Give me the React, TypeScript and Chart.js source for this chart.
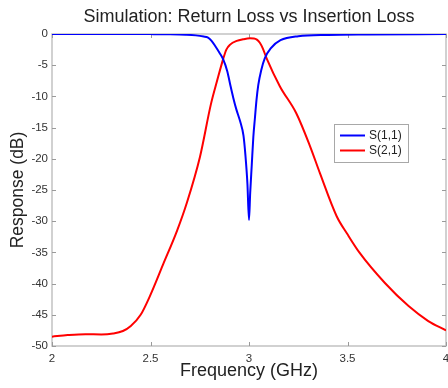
import { useEffect, useRef } from "react";
import { Chart, registerables } from "chart.js";

Chart.register(...registerables);

const FONT = "'Liberation Sans', Arial, Helvetica, sans-serif";

const chartTitle = "Simulation: Return Loss vs Insertion Loss";
const xAxisTitle = "Frequency (GHz)";
const yAxisTitle = "Response (dB)";
const seriesLabels = ["S(1,1)", "S(2,1)"];
const seriesColors = ["#0000ff", "#ff0000"];

const xMin = 2;
const xMax = 4;
const xStep = 0.5;
const yMin = -50;
const yMax = 0;
const yStep = 5;

// S(1,1) – return loss
const freqS11 = [
  2.0, 2.3, 2.5, 2.6, 2.68, 2.73, 2.77, 2.79, 2.81, 2.83, 2.85, 2.868, 2.89,
  2.906, 2.92, 2.935, 2.955, 2.972, 2.982, 2.992, 3.0, 3.006, 3.014, 3.022,
  3.03, 3.038, 3.047, 3.062, 3.08, 3.11, 3.16, 3.25, 3.4, 3.6, 4.0,
];
const s11 = [
  0, 0, -0.02, -0.05, -0.12, -0.22, -0.4, -0.55, -1.1, -2.0, -3.0, -4.0, -6.0,
  -8.3, -10.2, -12, -14, -16.3, -19.5, -24, -29.8, -25.5, -21, -16.5, -13.5,
  -10.6, -8.2, -5.8, -3.9, -2.3, -1.0, -0.35, -0.15, -0.08, -0.02,
];

// S(2,1) – insertion loss
const freqS21 = [
  2.0, 2.08, 2.17, 2.25, 2.31, 2.36, 2.4, 2.45, 2.497, 2.563, 2.635, 2.685,
  2.751, 2.807, 2.838, 2.868, 2.885, 2.904, 2.938, 2.97, 3.005, 3.025, 3.04,
  3.055, 3.07, 3.09, 3.157, 3.24, 3.31, 3.36, 3.445, 3.5, 3.56, 3.69, 3.81,
  3.91, 4.0,
];
const s21 = [
  -48.5, -48.25, -48.1, -48.15, -48.0, -47.6, -46.8, -45, -42, -37, -31.5, -27,
  -19.7, -11.2, -7.5, -4.1, -2.5, -1.7, -1.1, -0.85, -0.7, -0.72, -0.9, -1.4,
  -2.3, -3.95, -8.4, -12.7, -18, -22.3, -29.2, -32.1, -35, -39.9, -43.6, -46,
  -47.5,
];

const toPoints = (xs: number[], ys: number[]) =>
  xs.map((x, i) => ({ x, y: ys[i] }));

const framePlugin = {
  id: "matlabFrame",
  beforeDatasetsDraw(chart: any) {
    const { ctx, chartArea, scales } = chart;
    const { left, right, top, bottom } = chartArea;
    const xs = scales.x;
    const ys = scales.y;
    ctx.save();
    ctx.strokeStyle = "#c2c2c2";
    ctx.lineWidth = 1.5;
    ctx.strokeRect(left, top, right - left, bottom - top);
    ctx.strokeStyle = "#9a9a9a";
    ctx.lineWidth = 1;
    const tl = 4;
    const seg = (x1: number, y1: number, x2: number, y2: number) => {
      ctx.beginPath();
      ctx.moveTo(x1, y1);
      ctx.lineTo(x2, y2);
      ctx.stroke();
    };
    xs.ticks.forEach((t: any) => {
      const px = Math.round(xs.getPixelForValue(t.value)) + 0.5;
      seg(px, bottom, px, bottom - tl);
      seg(px, top, px, top + tl);
    });
    ys.ticks.forEach((t: any) => {
      const py = Math.round(ys.getPixelForValue(t.value)) + 0.5;
      seg(left, py, left + tl, py);
      seg(right, py, right - tl, py);
    });
    ctx.restore();
  },
};

const boxLegendPlugin = {
  id: "boxLegend",
  afterDatasetsDraw(chart: any) {
    const { ctx } = chart;
    const bx = 334;
    const by = 124;
    const bw = 74;
    const bh = 38;
    ctx.save();
    ctx.fillStyle = "#ffffff";
    ctx.fillRect(bx, by, bw, bh);
    ctx.strokeStyle = "#a8a8a8";
    ctx.lineWidth = 1;
    ctx.strokeRect(bx + 0.5, by + 0.5, bw, bh);
    ctx.font = `12px ${FONT}`;
    ctx.textBaseline = "middle";
    ctx.textAlign = "left";
    chart.data.datasets.forEach((ds: any, i: number) => {
      const ly = by + 11.5 + i * 15;
      ctx.strokeStyle = ds.borderColor;
      ctx.lineWidth = 2;
      ctx.beginPath();
      ctx.moveTo(bx + 6, ly);
      ctx.lineTo(bx + 31, ly);
      ctx.stroke();
      ctx.fillStyle = "#222";
      ctx.fillText(ds.label, bx + 35, ly);
    });
    ctx.restore();
  },
};

const fmt = (v: any) => String(Number(v));

export default function App() {
  const canvasRef = useRef<HTMLCanvasElement | null>(null);

  useEffect(() => {
    if (!canvasRef.current) return;
    const chart = new Chart(canvasRef.current, {
      type: "scatter",
      data: {
        datasets: [
          {
            label: seriesLabels[0],
            data: toPoints(freqS11, s11),
            borderColor: seriesColors[0],
            backgroundColor: seriesColors[0],
            showLine: true,
            borderWidth: 2,
            pointRadius: 0,
            cubicInterpolationMode: "monotone",
          },
          {
            label: seriesLabels[1],
            data: toPoints(freqS21, s21),
            borderColor: seriesColors[1],
            backgroundColor: seriesColors[1],
            showLine: true,
            borderWidth: 2,
            pointRadius: 0,
            cubicInterpolationMode: "monotone",
          },
        ],
      },
      options: {
        animation: false,
        responsive: false,
        layout: { padding: { left: 0, right: 2, top: 0, bottom: 0 } },
        plugins: {
          legend: { display: false },
          tooltip: { enabled: false },
          title: {
            display: true,
            text: chartTitle,
            fullSize: false,
            color: "#222",
            font: { family: FONT, size: 18, weight: "normal" },
            padding: { top: 6, bottom: 6.4 },
          },
        },
        scales: {
          x: {
            type: "linear",
            min: xMin,
            max: xMax,
            grid: { display: false, drawTicks: false },
            border: { display: false },
            ticks: {
              stepSize: xStep,
              autoSkip: false,
              maxRotation: 0,
              padding: 6,
              color: "#333",
              font: { family: FONT, size: 11.5 },
              callback: fmt,
            },
            title: {
              display: true,
              text: xAxisTitle,
              color: "#222",
              font: { family: FONT, size: 18 },
              padding: { top: 0, bottom: 6 },
            },
            afterFit: (s: any) => {
              s.height = 42;
              s.paddingLeft = 0;
              s.paddingRight = 0;
            },
          },
          y: {
            type: "linear",
            min: yMin,
            max: yMax,
            grid: { display: false, drawTicks: false },
            border: { display: false },
            ticks: {
              stepSize: yStep,
              autoSkip: false,
              padding: 4,
              color: "#333",
              font: { family: FONT, size: 11.5 },
              callback: fmt,
            },
            title: {
              display: true,
              text: yAxisTitle,
              color: "#222",
              font: { family: FONT, size: 17.5 },
              padding: { top: 8, bottom: 0 },
            },
            afterFit: (s: any) => {
              s.width = 52;
              s.paddingTop = 0;
              s.paddingBottom = 0;
            },
          },
        },
      } as any,
      plugins: [framePlugin, boxLegendPlugin],
    });
    return () => chart.destroy();
  }, []);

  return (
    <div style={{ position: "absolute", left: 0, top: 0, width: 448, height: 388 }}>
      <canvas ref={canvasRef} width={448} height={388} />
    </div>
  );
}
